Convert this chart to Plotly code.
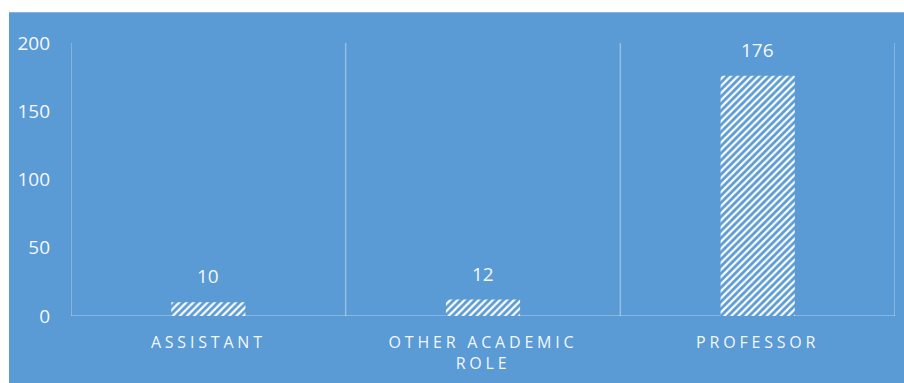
import plotly.graph_objects as go

categories = ["ASSISTANT", "OTHER ACADEMIC<br>ROLE", "PROFESSOR"]
values = [10, 12, 176]
y_ticks = [0, 50, 100, 150, 200]

BG = "#5B9BD5"
GRID = "rgba(255,255,255,0.35)"
TXT = "rgba(255,255,255,0.95)"
FONT = "Open Sans"

W, H = 904, 383
L, R, T, B = 71, 9, 43, 65
pw, ph = W - L - R, H - T - B

xs = list(range(len(categories)))
ticktext = ['<span style="letter-spacing:3.8px">%s</span>' % c for c in categories]

fig = go.Figure()
fig.add_trace(go.Bar(
    x=xs, y=values, width=0.27,
    marker=dict(color=BG, line=dict(width=0),
                pattern=dict(shape="/", fgcolor="white", bgcolor=BG,
                             size=5, solidity=0.45, fillmode="replace")),
    hoverinfo="skip",
))

for x, v in zip(xs, values):
    fig.add_annotation(x=x, y=v, text=str(v), showarrow=False, yanchor="bottom",
                       yshift=11, font=dict(family=FONT, size=19, color=TXT))

# background rectangle
fig.add_shape(type="rect", xref="paper", yref="paper",
              x0=(9 - L) / pw, x1=(W - L) / pw,
              y0=-B / ph - 0.01, y1=(H - B - 12) / ph,
              fillcolor=BG, line=dict(width=0), layer="below")

# category separators
for b in [i - 0.5 for i in range(len(categories) + 1)]:
    fig.add_shape(type="line", xref="x", yref="y", x0=b, x1=b, y0=0, y1=y_ticks[-1],
                  line=dict(color=GRID, width=1.5), layer="below")
fig.add_shape(type="line", xref="x", yref="y", x0=-0.5, x1=len(categories) - 0.5, y0=0, y1=0,
              line=dict(color=GRID, width=1.5), layer="below")

fig.update_layout(
    width=W, height=H,
    margin=dict(l=L, r=R, t=T, b=B),
    paper_bgcolor="white", plot_bgcolor=BG,
    showlegend=False,
    font=dict(family=FONT, color=TXT),
    xaxis=dict(range=[-0.5, len(categories) - 0.5], tickvals=xs, ticktext=ticktext,
               showgrid=False, zeroline=False, showline=False, ticks="",
               ticklabelstandoff=15,
               tickfont=dict(family=FONT, size=16, color=TXT)),
    yaxis=dict(range=[0, y_ticks[-1]], tickvals=y_ticks, showgrid=False, zeroline=False,
               showline=False, ticks="", ticklabelstandoff=20,
               tickfont=dict(family=FONT, size=19, color=TXT)),
)

fig.write_html("out.html")
